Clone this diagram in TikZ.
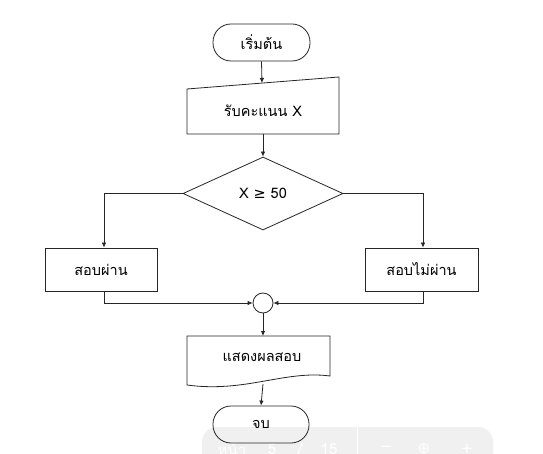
\documentclass[tikz,border=0pt]{standalone}
\usepackage{fontspec}
\setmainfont[Script=Thai]{Loma}
\newfontfamily\symfont{DejaVu Sans}
\usetikzlibrary{arrows.meta,shapes.geometric,calc}
\tikzset{
  flow/.style={draw=black!85, line width=0.8pt},
  arr/.style={flow, -{Latex[length=5pt,width=4.5pt]}},
  term/.style={flow, rounded corners=18pt, minimum width=97pt, minimum height=37pt, inner sep=0pt},
  procbox/.style={flow, minimum width=112pt, minimum height=43pt, inner sep=0pt},
  decbox/.style={flow, diamond, minimum width=160pt, minimum height=73pt, inner sep=0pt},
  junct/.style={flow, circle, minimum size=20pt, inner sep=0pt},
  lbl/.style={font=\fontsize{14.5}{16}\selectfont},
  tbtext/.style={text=white, font=\fontsize{15}{17}\selectfont}
}
\begin{document}
\begin{tikzpicture}[x=1pt,y=-1pt]
\useasboundingbox (0,0) rectangle (543,454);
\clip (0,0) rectangle (543,454);
\fill[white] (0,0) rectangle (543,454);
% viewer toolbar overlay
\fill[black!6, rounded corners=15pt] (202,427) rectangle (493,480);
\draw[white, line width=1pt] (357,427) -- (357,454);
\node[tbtext] (tb1) at (232,449) {หน้า};
\node[tbtext] (tb2) at (272,449) {5};
\node[tbtext] (tb3) at (300,449) {/};
\node[tbtext] (tb4) at (329,449) {15};
\node[tbtext] (tb5) at (386,449) {\symfont −};
\node[tbtext] (tb6) at (424,449) {\symfont ⊕};
\node[tbtext] (tb7) at (467,449) {\symfont +};
% start
\node[term, lbl] (start) at (261.5,42.5) {เริ่มต้น};
% manual input
\draw[flow] (187,89) -- (339,77) -- (339,134) -- (187,134) -- cycle;
\node[lbl, minimum width=152pt, minimum height=45pt, inner sep=0pt] (input) at (263,111) {รับคะแนน X};
\coordinate (inTop) at (262,83);
\coordinate (inBot) at (263,134);
% decision
\node[decbox, lbl] (dec) at (263,193.5) {X {\symfont ≥} 50};
% branches
\node[procbox, lbl] (pass) at (101,269.5) {สอบผ่าน};
\node[procbox, lbl, minimum width=113pt] (fail) at (421.5,269.5) {สอบไม่ผ่าน};
\node[junct] (join) at (263,303) {};
% display
\draw[flow] (187,336) -- (330,336) -- (330,376) .. controls (285,370) and (245,393) .. (187,385) -- cycle;
\node[lbl, minimum width=143pt, minimum height=40pt, inner sep=0pt] (disp) at (262,357) {แสดงผลสอบ};
\coordinate (dispTop) at (263,336);
\coordinate (dispBot) at (263,384);
% end
\node[term, lbl, minimum width=96pt] (stop) at (261,424.5) {จบ};
% connectors
\draw[arr] (start.south) -- (inTop);
\draw[arr] (inBot) -- (dec.north);
\draw[arr] (dec.west) -| ([xshift=3pt]pass.north);
\draw[arr] (dec.east) -| ([xshift=1.5pt]fail.north);
\draw[arr] ([xshift=3pt]pass.south) |- (join.west);
\draw[arr] ([xshift=1.5pt]fail.south) |- (join.east);
\draw[arr] (join.south) -- (dispTop);
\draw[arr] (dispBot) -- (stop.north);
\end{tikzpicture}
\end{document}
